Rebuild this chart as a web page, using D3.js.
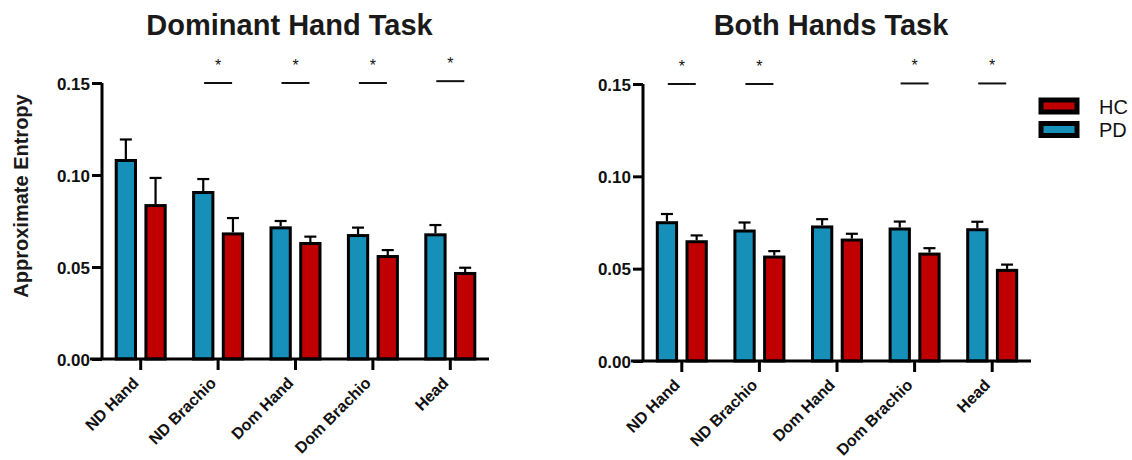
<!DOCTYPE html>
<html>
<head>
<meta charset="utf-8">
<script src="https://cdn.jsdelivr.net/npm/d3@7"></script>
<style>
  body { margin: 0; background: #fff; }
  svg { font-family: "Liberation Sans", Arial, sans-serif; }
</style>
</head>
<body>
<svg id="chart" width="1132" height="460"></svg>
<script>
// categories and groups
const regions = ["ND Hand", "ND Brachio", "Dom Hand", "Dom Brachio", "Head"];
const groups = ["PD", "HC"];

// Dominant Hand Task: means and mean + SEM
const domPD = [0.1087, 0.0913, 0.0721, 0.0679, 0.0683];
const domPDerr = [0.1193, 0.0978, 0.0750, 0.0714, 0.0728];
const domHC = [0.0842, 0.0688, 0.0636, 0.0565, 0.0473];
const domHCerr = [0.0984, 0.0766, 0.0665, 0.0592, 0.0496];
const domSig = [null, 0.150, 0.150, 0.150, 0.151];

// Both Hands Task
const bothPD = [0.0757, 0.0712, 0.0734, 0.0723, 0.0719];
const bothPDerr = [0.0796, 0.0750, 0.0768, 0.0755, 0.0754];
const bothHC = [0.0654, 0.0571, 0.0663, 0.0587, 0.0499];
const bothHCerr = [0.0680, 0.0595, 0.0689, 0.0611, 0.0522];
const bothSig = [0.150, 0.150, null, 0.1503, 0.1503];

const yTicks = [0, 0.05, 0.10, 0.15];

const colors = { PD: "#1690b8", HC: "#c00000" };

const svg = d3.select("#chart");

function drawPanel(opts) {
  const { title, left, right, top, bottom, pd, pdErr, hc, hcErr, sig, yLabel } = opts;

  const x = d3.scaleBand().domain(regions).range([left, right]);
  const x1 = d3.scaleBand().domain(groups).range([-26, 26]).paddingInner(0.25);
  const y = d3.scaleLinear().domain([0, 0.15]).range([bottom, top]);

  const g = svg.append("g");

  // title
  g.append("text")
    .attr("x", (left + right) / 2 - 6)
    .attr("y", 35)
    .attr("text-anchor", "middle")
    .style("font-size", "29px")
    .style("font-weight", "bold")
    .attr("fill", "#1a1a1a")
    .text(title);

  // bars
  const rows = regions.map((r, i) => ({
    region: r,
    vals: [
      { grp: "PD", v: pd[i], e: pdErr[i] },
      { grp: "HC", v: hc[i], e: hcErr[i] }
    ]
  }));

  const grp = g.selectAll("g.region")
    .data(rows)
    .join("g")
    .attr("class", "region")
    .attr("transform", d => `translate(${x(d.region) + x.bandwidth() / 2},0)`);

  // error bars (upper only)
  const eb = grp.selectAll("g.err")
    .data(d => d.vals)
    .join("g")
    .attr("class", "err");
  eb.append("line")
    .attr("x1", d => x1(d.grp) + x1.bandwidth() / 2)
    .attr("x2", d => x1(d.grp) + x1.bandwidth() / 2)
    .attr("y1", d => y(d.v))
    .attr("y2", d => y(d.e))
    .attr("stroke", "#000")
    .attr("stroke-width", 2.2);
  eb.append("line")
    .attr("x1", d => x1(d.grp) + x1.bandwidth() / 2 - 6)
    .attr("x2", d => x1(d.grp) + x1.bandwidth() / 2 + 6)
    .attr("y1", d => y(d.e))
    .attr("y2", d => y(d.e))
    .attr("stroke", "#000")
    .attr("stroke-width", 2.2);

  grp.selectAll("rect")
    .data(d => d.vals)
    .join("rect")
    .attr("x", d => x1(d.grp) + 1.5)
    .attr("width", x1.bandwidth() - 3)
    .attr("y", d => y(d.v) + 1.5)
    .attr("height", d => y(0) - y(d.v) - 1.5)
    .attr("fill", d => colors[d.grp])
    .attr("stroke", "#000")
    .attr("stroke-width", 3);

  // significance markers
  const sigData = regions.map((r, i) => ({ region: r, s: sig[i] })).filter(d => d.s !== null);
  const sg = g.selectAll("g.sig")
    .data(sigData)
    .join("g")
    .attr("class", "sig")
    .attr("transform", d => `translate(${x(d.region) + x.bandwidth() / 2},0)`);
  sg.append("line")
    .attr("x1", -14).attr("x2", 14)
    .attr("y1", d => y(d.s)).attr("y2", d => y(d.s))
    .attr("stroke", "#111")
    .attr("stroke-width", 2);
  sg.append("text")
    .attr("x", 0)
    .attr("y", d => y(d.s) - 12)
    .attr("text-anchor", "middle")
    .style("font-size", "16px")
    .attr("fill", "#111")
    .text("*");

  // y axis
  const yAxis = g.append("g")
    .attr("transform", `translate(${left},0)`)
    .call(d3.axisLeft(y).tickValues(yTicks).tickFormat(d3.format(".2f")).tickSize(10).tickPadding(2));
  yAxis.select(".domain").attr("stroke", "#000").attr("stroke-width", 3)
    .attr("d", `M0,${bottom}V${top}`);
  yAxis.selectAll(".tick line").attr("stroke", "#000").attr("stroke-width", 3);
  yAxis.selectAll(".tick text")
    .style("font-size", "17px").style("font-weight", "bold").attr("fill", "#111")
    .attr("dy", "0.36em");

  // x axis
  const xAxis = g.append("g")
    .attr("transform", `translate(0,${bottom})`)
    .call(d3.axisBottom(x).tickSize(11));
  xAxis.select(".domain").attr("stroke", "#000").attr("stroke-width", 3)
    .attr("d", `M${left - 12},0H${right}`);
  xAxis.selectAll(".tick line").attr("stroke", "#000").attr("stroke-width", 3);
  xAxis.selectAll(".tick text")
    .style("font-size", "16px").style("font-weight", "bold").attr("fill", "#111")
    .attr("text-anchor", "end")
    .attr("x", 0).attr("y", 0).attr("dy", "0")
    .attr("transform", "translate(-1,25) rotate(-45)");

  if (yLabel) {
    g.append("text")
      .attr("transform", `translate(28,196) rotate(-90)`)
      .attr("text-anchor", "middle")
      .style("font-size", "20px")
      .style("font-weight", "bold")
      .attr("fill", "#1a1a1a")
      .text(yLabel);
  }
}

drawPanel({
  title: "Dominant Hand Task",
  left: 102, right: 489, top: 83, bottom: 359,
  pd: domPD, pdErr: domPDerr, hc: domHC, hcErr: domHCerr, sig: domSig,
  yLabel: "Approximate Entropy"
});

drawPanel({
  title: "Both Hands Task",
  left: 643, right: 1031, top: 84, bottom: 361,
  pd: bothPD, pdErr: bothPDerr, hc: bothHC, hcErr: bothHCerr, sig: bothSig
});

// legend
const legendItems = ["HC", "PD"];
const legend = svg.append("g").attr("transform", "translate(1041,100)");
const li = legend.selectAll("g")
  .data(legendItems)
  .join("g")
  .attr("transform", (d, i) => `translate(0,${i * 23.5})`);
li.append("rect")
  .attr("x", 0).attr("y", 0)
  .attr("width", 36).attr("height", 12)
  .attr("fill", d => colors[d])
  .attr("stroke", "#000")
  .attr("stroke-width", 5);
li.append("text")
  .attr("x", 58).attr("y", 13.5)
  .style("font-size", "20px")
  .attr("fill", "#111")
  .text(d => d);
</script>
</body>
</html>
